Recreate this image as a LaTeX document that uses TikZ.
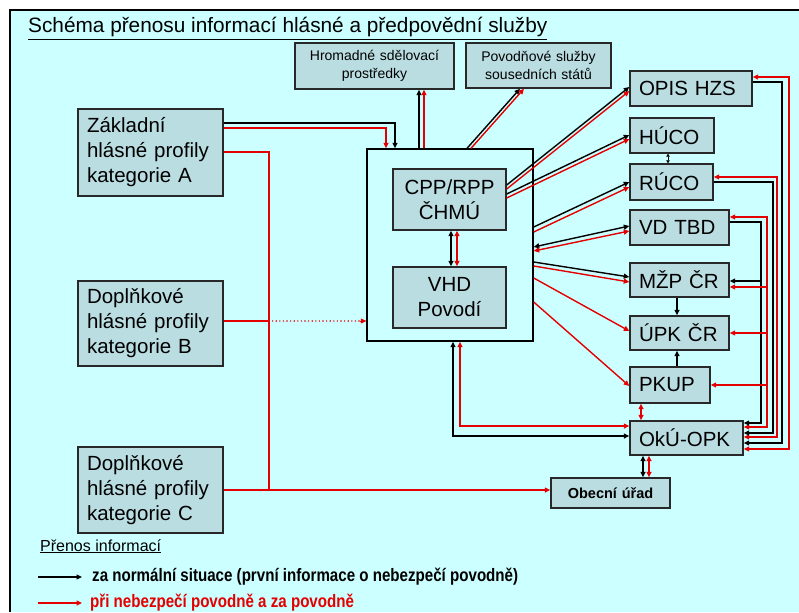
\documentclass[tikz,border=0pt]{standalone}
\usepackage{fontspec}
\setmainfont{Liberation Sans}
\newfontfamily\narrowfont[FakeStretch=0.84]{Liberation Sans}
\usetikzlibrary{arrows.meta,calc}
\definecolor{bgc}{RGB}{204,255,255}
\definecolor{boxc}{RGB}{186,221,226}
\definecolor{edgec}{RGB}{40,40,40}
\definecolor{redc}{RGB}{228,0,0}
\tikzset{
  box/.style={draw=edgec, fill=boxc, line width=1.4pt, rectangle, inner xsep=9pt, inner ysep=0pt},
  bigtxt/.style={font=\fontsize{20.5}{25}\selectfont},
  smalltxt/.style={font=\fontsize{14}{17.5}\selectfont, align=center},
  kl/.style={line width=1.4pt, draw=black},
  rl/.style={line width=1.4pt, draw=redc},
  tip/.tip={Triangle[length=5.5pt,width=5pt]},
  smalltip/.tip={Triangle[length=3pt,width=3.5pt]},
}
\begin{document}
\begin{tikzpicture}[x=1pt,y=-1pt]
\useasboundingbox (0,0) rectangle (799,612);
\fill[white] (0,0) rectangle (799,612);
\fill[bgc] (10,10) rectangle (799,612);
\draw[line width=1.5pt] (10,612) -- (10,10) -- (799,10);

\node[anchor=base west, inner sep=0pt, font=\fontsize{20.8}{24}\selectfont] (title) at (28,33) {\underline{Schéma přenosu informací hlásné a předpovědní služby}};

% top boxes
\node[box, smalltxt, minimum width=159pt, minimum height=46pt, text width=141pt] (hrom) at (374.5,66) {Hromadné sdělovací\\prostředky};
\node[box, smalltxt, minimum width=145pt, minimum height=45pt, text width=127pt] (povod) at (538.5,65.5) {Povodňové služby\\sousedních států};

% right column
\node[box, bigtxt, align=left, minimum width=122pt, minimum height=35pt, text width=104pt] (opis) at (691,88.5) {OPIS HZS};
\node[box, bigtxt, align=left, minimum width=84pt, minimum height=35pt, text width=66pt] (huco) at (672,135.5) {HÚCO};
\node[box, bigtxt, align=left, minimum width=83pt, minimum height=36pt, text width=65pt] (ruco) at (671.5,182) {RÚCO};
\node[box, bigtxt, align=left, minimum width=99pt, minimum height=35pt, text width=81pt] (vdtbd) at (679.5,227.5) {VD TBD};
\node[box, bigtxt, align=left, minimum width=99pt, minimum height=34pt, text width=81pt] (mzp) at (679.5,280) {MŽP ČR};
\node[box, bigtxt, align=left, minimum width=99pt, minimum height=34pt, text width=81pt] (upk) at (679.5,333) {ÚPK ČR};
\node[box, bigtxt, align=left, minimum width=80pt, minimum height=36pt, text width=62pt] (pkup) at (670,385) {PKUP};
\node[box, bigtxt, align=left, minimum width=113pt, minimum height=34pt, text width=95pt] (oku) at (686.5,438) {OkÚ-OPK};
\node[box, font=\fontsize{14.5}{17}\bfseries, align=center, minimum width=119pt, minimum height=30pt, text width=101pt] (obec) at (610.5,493) {Obecní úřad};

% central container
\node[draw=black, line width=1.4pt, rectangle, minimum width=166pt, minimum height=192pt, inner sep=0pt] (big) at (450,245) {};
\node[box, bigtxt, align=center, minimum width=113pt, minimum height=61pt, text width=95pt] (cpp) at (449.5,199.5) {CPP/RPP\\ČHMÚ};
\node[box, bigtxt, align=center, minimum width=113pt, minimum height=61pt, text width=95pt] (vhd) at (449.5,297.5) {VHD\\Povodí};

% left column
\node[box, bigtxt, align=left, minimum width=145pt, minimum height=87pt, text width=127pt] (A) at (150.5,152.5) {Základní\\hlásné profily\\kategorie A};
\node[box, bigtxt, align=left, minimum width=145pt, minimum height=85pt, text width=127pt] (B) at (150.5,323.5) {Doplňkové\\hlásné profily\\kategorie B};
\node[box, bigtxt, align=left, minimum width=145pt, minimum height=86pt, text width=127pt] (C) at (150.5,490) {Doplňkové\\hlásné profily\\kategorie C};

% ---- connectors ----
% A -> big
\draw[kl,-tip] (A.east |- 0,123) -| (395,0 |- big.north);
\draw[rl,-tip] (A.east |- 0,128) -| (386,0 |- big.north);
% A, C -> Obecni urad
\draw[rl] (A.east |- 0,152) -| (269,0 |- C.east);
\draw[rl,-tip] (C.east) -- (obec.west |- C.east);
% B -> big (dotted)
\coordinate (bj) at (269,321);
\draw[rl] (B.east |- bj) -- (bj);
\draw[color=redc, line width=1.6pt, line cap=round, dash pattern=on 0pt off 3.6pt] (bj) -- ([xshift=-6pt]big.west |- bj);
\draw[color=redc, fill=redc, line width=0.5pt, -{Triangle[length=5.5pt,width=5pt]}] ([xshift=-6pt]big.west |- bj) -- (big.west |- bj);
% big -> hromadne
\draw[kl,-tip] (419,0 |- big.north) -- (419,0 |- hrom.south);
\draw[rl,-tip] (424,0 |- big.north) -- (424,0 |- hrom.south);
% big -> povodnove
\draw[kl,-tip] (467,0 |- big.north) -- (520,0 |- povod.south);
\draw[rl,-tip] (471,0 |- big.north) -- (524,0 |- povod.south);
% CPP -> OPIS, HUCO
\draw[kl,-tip] (cpp.east |- 0,185) -- (opis.west |- 0,87);
\draw[rl,-tip] (cpp.east |- 0,189) -- (opis.west |- 0,91);
\draw[kl,-tip] (cpp.east |- 0,194) -- (huco.west |- 0,135);
\draw[rl,-tip] (cpp.east |- 0,198) -- (huco.west |- 0,139);
% big -> RUCO
\draw[kl,-tip] (big.east |- 0,227) -- (ruco.west |- 0,182);
\draw[rl,-tip] (big.east |- 0,232) -- (ruco.west |- 0,187);
% big <-> VD TBD
\draw[kl,tip-tip] (big.east |- 0,247) -- (vdtbd.west |- 0,226);
\draw[rl,tip-tip] (big.east |- 0,251) -- (vdtbd.west |- 0,231);
% big -> MZP, UPK, PKUP
\draw[kl,-tip] (big.east |- 0,262) -- (mzp.west |- 0,277);
\draw[rl,-tip] (big.east |- 0,266) -- (mzp.west |- 0,282);
\draw[rl,-tip] (big.east |- 0,278) -- (upk.west |- 0,331);
\draw[rl,-tip] (big.east |- 0,302) -- (pkup.west |- 0,386);
% CPP <-> VHD
\draw[kl,tip-tip] (451,0 |- cpp.south) -- (451,0 |- vhd.north);
\draw[rl,tip-tip] (457,0 |- cpp.south) -- (457,0 |- vhd.north);
% HUCO <-> RUCO
\draw[line width=1pt,smalltip-smalltip] (668,0 |- huco.south) -- (668,0 |- ruco.north);
% MZP -> UPK, PKUP -> UPK
\draw[kl,-tip] (677,0 |- mzp.south) -- (677,0 |- upk.north);
\draw[kl,-tip] (677,0 |- pkup.north) -- (677,0 |- upk.south);
% PKUP <-> OkU
\draw[rl,tip-tip] (641,0 |- pkup.south) -- (641,0 |- oku.north);
% OkU <-> Obec
\draw[kl,tip-tip] (643,0 |- oku.south) -- (643,0 |- obec.north);
\draw[rl,tip-tip] (649,0 |- oku.south) -- (649,0 |- obec.north);
% big <-> OkU
\draw[kl,tip-tip] (453,0 |- big.south) |- (oku.west |- 0,436);
\draw[rl,tip-tip] (460,0 |- big.south) |- (oku.west |- 0,426);
% right bus
\draw[rl,tip-tip] (opis.east |- 0,77) -- (789,77) -- (789,449) -- (oku.east |- 0,449);
\draw[kl,-tip] (opis.east |- 0,82) -- (782,82) -- (782,443) -- (oku.east |- 0,443);
\draw[rl,tip-tip] (ruco.east |- 0,177) -- (777,177) -- (777,437) -- (oku.east |- 0,437);
\draw[kl,-tip] (ruco.east |- 0,182) -- (773,182) -- (773,433) -- (oku.east |- 0,433);
\draw[rl,tip-tip] (vdtbd.east |- 0,217) -- (767,217) -- (767,427) -- (oku.east |- 0,427);
\draw[kl,-tip] (vdtbd.east |- 0,222) -- (761,222) -- (761,423) -- (oku.east |- 0,423);
\draw[kl,-tip] (761,281) -- (mzp.east |- 0,281);
\draw[rl,-tip] (767,287) -- (mzp.east |- 0,287);
\draw[rl,-tip] (767,0 |- upk.east) -- (upk.east);
\draw[rl,-tip] (767,0 |- pkup.east) -- (pkup.east);

% legend
\node[anchor=base west, inner sep=0pt, font=\fontsize{16}{19}\selectfont] (legtitle) at (40,551) {\underline{Přenos informací}};
\coordinate (l1a) at (38,577);
\coordinate (l1b) at (82,577);
\coordinate (l2a) at (38,603);
\coordinate (l2b) at (82,603);
\draw[kl,-tip] (l1a) -- (l1b);
\draw[rl,-tip] (l2a) -- (l2b);
\node[anchor=west, inner sep=0pt, font=\narrowfont\bfseries\fontsize{18}{21}\selectfont] (leg1) at (92,577) {za normální situace (první informace o nebezpečí povodně)};
\node[anchor=west, inner sep=0pt, text=redc, font=\narrowfont\bfseries\fontsize{18}{21}\selectfont] (leg2) at (90,603) {při nebezpečí povodně a za povodně};
\end{tikzpicture}
\end{document}
